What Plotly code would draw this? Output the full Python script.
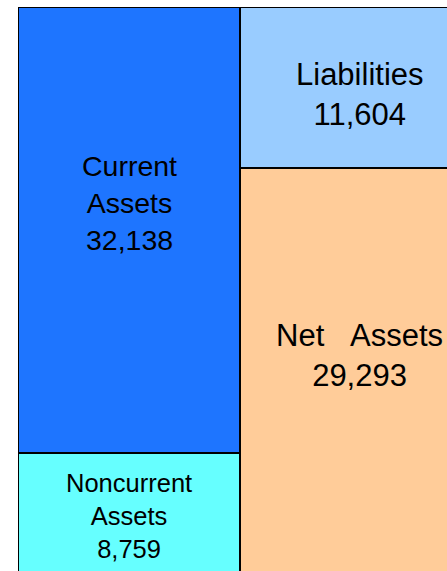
import plotly.graph_objects as go

# 貸借対照表（左：資産、右：負債＋純資産）
labels_left = ["Noncurrent<br>Assets", "Current<br>Assets"]
values_left = [8759, 32138]
colors_left = ["#66FFFF", "#1E75FF"]

labels_right = ["Net\u00a0\u00a0\u00a0Assets", "Liabilities"]
values_right = [29293, 11604]
colors_right = ["#FFCC99", "#99CCFF"]

# text position inside each block (fraction of block height from its bottom)
pos_left = [0.48, 0.56]
pos_right = [0.54, 0.455]
size_left = [25.5, 28.5]
size_right = [31, 31]

W_LEFT = 1.0
W_RIGHT = 1.077
X_LEFT = W_LEFT / 2
X_RIGHT = W_LEFT + W_RIGHT / 2

fig = go.Figure()
annotations = []

for col_x, col_w, labels, values, colors, pos, sizes in [
    (X_LEFT, W_LEFT, labels_left, values_left, colors_left, pos_left, size_left),
    (X_RIGHT, W_RIGHT, labels_right, values_right, colors_right, pos_right, size_right),
]:
    base = 0
    for lab, v, c, p, s in zip(labels, values, colors, pos, sizes):
        fig.add_trace(go.Bar(
            x=[col_x], y=[v], base=[base], width=[col_w],
            marker=dict(color=c, line=dict(color="#000000", width=2)),
            showlegend=False, hoverinfo="skip",
        ))
        annotations.append(dict(
            x=col_x, y=base + v * p, xref="x", yref="y",
            text=f"{lab}<br>{v:,}", showarrow=False,
            font=dict(family="Arial, Liberation Sans, sans-serif", size=s, color="#000000"),
            xanchor="center", yanchor="middle",
        ))
        base += v

total = sum(values_left)
fig.update_layout(
    width=447, height=571,
    margin=dict(l=18, r=0, t=7, b=0),
    barmode="overlay",
    paper_bgcolor="white", plot_bgcolor="white",
    annotations=annotations,
)
fig.update_xaxes(visible=False, range=[0, 429 / 222])
fig.update_yaxes(visible=False, range=[260, total])

fig.write_html("out.html", config={"displayModeBar": False},
               post_script="document.body.style.margin='0';")
